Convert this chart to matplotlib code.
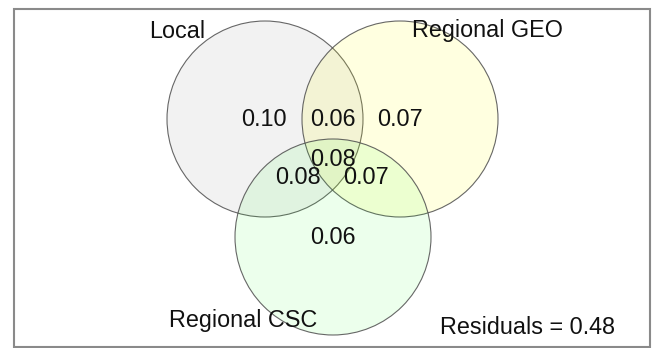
import matplotlib
matplotlib.use("Agg")
import matplotlib.pyplot as plt
from matplotlib.patches import Circle, Rectangle

plt.rcParams['font.family'] = ['Liberation Sans', 'DejaVu Sans']

# Sets and their region proportions
set_names = ["Local", "Regional GEO", "Regional CSC"]
only_values = [0.10, 0.07, 0.06]            # Local only, GEO only, CSC only
pair_values = [0.06, 0.08, 0.07]            # Local&GEO, Local&CSC, GEO&CSC
triple_value = 0.08
residuals = 0.48

# Layout (pixel coordinates, y grows downward)
W, H = 652, 348
radius = 98
centers = [(265, 119), (400, 119), (333, 237)]
fills = [(0.5, 0.5, 0.5, 0.10), (1.0, 1.0, 0.0, 0.12), (0.2, 1.0, 0.2, 0.09)]
name_pos = [(177, 32), (487, 30), (243, 320)]
only_pos = [(264, 119), (400, 119), (333, 237)]
pair_pos = [(333, 119), (298, 177), (366, 177)]
triple_pos = (333, 159)

fig = plt.figure(figsize=(W / 100, H / 100), dpi=100)
ax = fig.add_axes([0, 0, 1, 1])
ax.set_xlim(0, W)
ax.set_ylim(H, 0)
ax.axis("off")

ax.add_patch(Rectangle((13.5, 8.5), 636.5, 338, fill=False,
                       edgecolor="#8a8a8a", linewidth=1.5))

for (cx, cy), fc in zip(centers, fills):
    ax.add_patch(Circle((cx, cy), radius, facecolor=fc,
                        edgecolor=(0.3, 0.3, 0.3, 0.85), linewidth=0.8))

fs = 16.8
txt = dict(ha="center", va="center", fontsize=fs, color="#111111")
for name, (x, y) in zip(set_names, name_pos):
    ax.text(x, y, name, **txt)
for v, (x, y) in zip(only_values, only_pos):
    ax.text(x, y, f"{v:.2f}", **txt)
for v, (x, y) in zip(pair_values, pair_pos):
    ax.text(x, y, f"{v:.2f}", **txt)
ax.text(*triple_pos, f"{triple_value:.2f}", **txt)
ax.text(527, 328, f"Residuals = {residuals:.2f}", **txt)

fig.savefig("out.png", dpi=100)
